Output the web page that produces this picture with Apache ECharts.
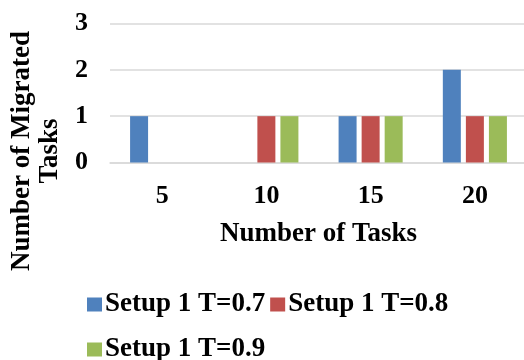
<!DOCTYPE html>
<html>
<head>
<meta charset="utf-8">
<script src="https://cdn.jsdelivr.net/npm/echarts@6/dist/echarts.min.js"></script>
<style>
  html, body { margin: 0; padding: 0; background: #fff; }
  #chart { width: 524px; height: 360px; }
</style>
</head>
<body>
<div id="chart"></div>
<script>
// Migrated task counts per task load, one series per threshold setting
const taskCounts = ['5', '10', '15', '20'];
const setupT07 = [1, 0, 1, 2];
const setupT08 = [0, 1, 1, 1];
const setupT09 = [0, 1, 1, 1];
const seriesNames = ['Setup 1 T=0.7', 'Setup 1 T=0.8', 'Setup 1 T=0.9'];
const yTicks = [0, 1, 2, 3];

const FONT = '"Liberation Serif", "Times New Roman", serif';
const colors = ['#4F81BD', '#C0504D', '#9BBB59'];

const chart = echarts.init(document.getElementById('chart'), null, { renderer: 'canvas' });

function barSeries(name, data, color) {
  return {
    name: name,
    type: 'bar',
    data: data,
    barWidth: 18,
    barGap: '28%',
    itemStyle: { color: color },
    emphasis: { disabled: true }
  };
}

const legendText = {
  color: '#000',
  fontFamily: FONT,
  fontWeight: 'bold',
  fontSize: 27,
  padding: [0, 0, 0, -2]
};

function legendRow(names, top) {
  return {
    left: 82,
    top: top,
    itemWidth: 15,
    itemHeight: 14,
    itemGap: 5,
    icon: 'rect',
    selectedMode: false,
    data: names,
    textStyle: legendText
  };
}

chart.setOption({
  animation: false,
  color: colors,
  grid: {
    left: 110, top: 23.5, width: 417, height: 139,
    containLabel: false,
    outerBoundsMode: 'none'
  },
  xAxis: {
    type: 'category',
    data: taskCounts,
    axisLine: { show: true, lineStyle: { color: '#D9D9D9', width: 1.5 } },
    axisTick: { show: false },
    axisLabel: {
      margin: 21,
      color: '#000',
      fontFamily: FONT,
      fontWeight: 'bold',
      fontSize: 26
    },
    name: 'Number of Tasks',
    nameLocation: 'middle',
    nameGap: 58,
    nameTextStyle: {
      color: '#000',
      fontFamily: FONT,
      fontWeight: 'bold',
      fontSize: 27
    }
  },
  yAxis: {
    type: 'value',
    min: yTicks[0],
    max: yTicks[yTicks.length - 1],
    interval: 1,
    axisLine: { show: false },
    axisTick: { show: false },
    splitLine: { lineStyle: { color: '#D9D9D9', width: 1.5 } },
    axisLabel: {
      margin: 22,
      color: '#000',
      fontFamily: FONT,
      fontWeight: 'bold',
      fontSize: 26
    },
    name: 'Number of Migrated\nTasks',
    nameLocation: 'middle',
    nameGap: 44,
    nameRotate: 90,
    nameTextStyle: {
      color: '#000',
      fontFamily: FONT,
      fontWeight: 'bold',
      fontSize: 27,
      lineHeight: 28,
      align: 'center',
      padding: [0, 116, 0, 0]
    }
  },
  legend: [
    legendRow(seriesNames.slice(0, 2), 286),
    legendRow(seriesNames.slice(2), 331)
  ],
  series: [
    barSeries(seriesNames[0], setupT07, colors[0]),
    barSeries(seriesNames[1], setupT08, colors[1]),
    barSeries(seriesNames[2], setupT09, colors[2])
  ]
});
</script>
</body>
</html>
